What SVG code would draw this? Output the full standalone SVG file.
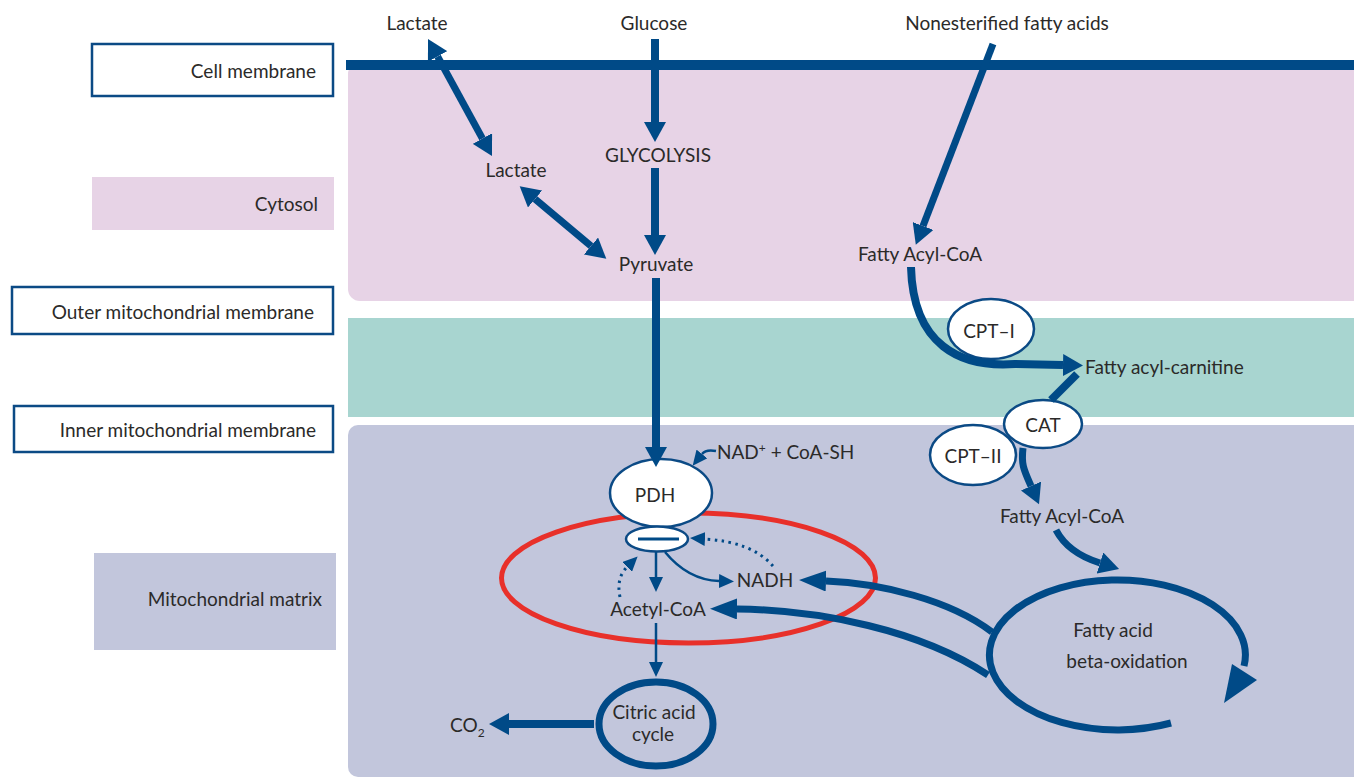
<svg xmlns="http://www.w3.org/2000/svg" width="1354" height="778" viewBox="0 0 1354 778">
<style>
text{font-family:Lato,"Noto Sans","Liberation Sans",sans-serif;font-size:19px;fill:#2b2a29}
.c{text-anchor:middle}
.r{text-anchor:end}
.lbl{fill:#fff;stroke:#0b4a85;stroke-width:2.5}
.enz{fill:#fff;stroke:#0b4a85;stroke-width:2.5}
.thick{fill:none;stroke:#004a87;stroke-width:8}
.med{fill:none;stroke:#004a87;stroke-width:7}
.thin{fill:none;stroke:#004a87;stroke-width:2.5}
.dot{fill:none;stroke:#004a87;stroke-width:3;stroke-dasharray:2.5 4.5}
</style>
<defs>
<marker id="hb" markerUnits="userSpaceOnUse" viewBox="0 0 20 22" markerWidth="20" markerHeight="22" refX="0" refY="11" orient="auto-start-reverse"><path d="M0,0 L20,11 L0,22 z" fill="#004a87"/></marker>
<marker id="hl" markerUnits="userSpaceOnUse" viewBox="0 0 27 21" markerWidth="27" markerHeight="21" refX="0" refY="10.5" orient="auto"><path d="M0,0 L27,10.5 L0,21 z" fill="#004a87"/></marker>
<marker id="hs" markerUnits="userSpaceOnUse" viewBox="0 0 15 14" markerWidth="15" markerHeight="14" refX="0" refY="7" orient="auto"><path d="M0,0 L15,7 L0,14 z" fill="#004a87"/></marker>
</defs>
<rect width="1354" height="778" fill="#fff"/>
<g id="compartments">
<rect x="348" y="62" width="1020" height="239" rx="12" fill="#e7d3e6"/>
<rect x="348" y="318" width="1010" height="99" fill="#a8d5d0"/>
<rect x="348" y="425" width="1020" height="352" rx="10" fill="#c2c6dc"/>
<rect id="cell-membrane-line" x="346" y="60" width="1010" height="10" fill="#004a87"/>
</g>
<g id="legend">
<g id="lbl-cell"><rect class="lbl" x="92" y="44" width="241" height="52"/><text class="r" x="316" y="78">Cell membrane</text></g>
<g id="lbl-cytosol"><rect x="92" y="177" width="242" height="53" fill="#e7d3e6"/><text class="r" x="318" y="211">Cytosol</text></g>
<g id="lbl-outer"><rect class="lbl" x="12" y="287" width="321" height="47"/><text class="r" x="314" y="319">Outer mitochondrial membrane</text></g>
<g id="lbl-inner"><rect class="lbl" x="14" y="406" width="319" height="46"/><text class="r" x="316" y="437">Inner mitochondrial membrane</text></g>
<g id="lbl-matrix"><rect x="94" y="553" width="242" height="97" fill="#c2c6dc"/><text class="r" x="322" y="606">Mitochondrial matrix</text></g>
</g>
<ellipse id="red-loop" cx="688.5" cy="578" rx="187" ry="65" fill="none" stroke="#e8302a" stroke-width="5"/>
<g id="nodes">
<g id="pdh"><ellipse class="enz" cx="661" cy="493" rx="51" ry="34"/><text class="c" x="655" y="502">PDH</text></g>
<g id="inhib"><ellipse class="enz" cx="657" cy="539" rx="31" ry="12.5"/><line x1="638" y1="539" x2="679" y2="539" stroke="#004a87" stroke-width="3"/></g>
<g id="tca"><ellipse cx="656" cy="724" rx="57" ry="42" fill="none" stroke="#004a87" stroke-width="7"/><text class="c" x="654" y="719">Citric acid</text><text class="c" x="653" y="741">cycle</text></g>
<g id="cpt1"><ellipse class="enz" cx="991" cy="329" rx="43" ry="30"/><text class="c" x="989" y="338">CPT–I</text></g>
<g id="cpt2"><ellipse class="enz" cx="973" cy="455" rx="43" ry="30"/><text class="c" x="973" y="463">CPT–II</text></g>
<g id="cat"><ellipse class="enz" cx="1043" cy="424" rx="39" ry="24"/><text class="c" x="1043" y="432">CAT</text></g>
<g id="t-lactate-out"><text class="c" x="417" y="30">Lactate</text></g>
<g id="t-glucose"><text class="c" x="654" y="30">Glucose</text></g>
<g id="t-nefa"><text class="c" x="1007" y="30">Nonesterified fatty acids</text></g>
<g id="t-lactate-in"><text class="c" x="516" y="177">Lactate</text></g>
<g id="t-glycolysis"><text class="c" x="658" y="162">GLYCOLYSIS</text></g>
<g id="t-pyruvate"><text class="c" x="656" y="271">Pyruvate</text></g>
<g id="t-facoa1"><text class="c" x="920" y="261">Fatty Acyl-CoA</text></g>
<g id="t-facarn"><text x="1085" y="374">Fatty acyl-carnitine</text></g>
<g id="t-facoa2"><text class="c" x="1062" y="523">Fatty Acyl-CoA</text></g>
<g id="t-beta"><text class="c" x="1113" y="637">Fatty acid</text><text class="c" x="1127" y="668">beta-oxidation</text></g>
<g id="t-nad"><text x="717" y="459">NAD<tspan font-size="12" dy="-7">+</tspan><tspan dy="7"> + CoA-SH</tspan></text></g>
<g id="t-nadh"><text class="c" x="765" y="587">NADH</text></g>
<g id="t-acetyl"><text class="c" x="658" y="616">Acetyl-CoA</text></g>
<g id="t-co2"><text x="450" y="732">CO<tspan font-size="12" dy="5">2</tspan></text></g>
</g>
<g id="connectors">
<line class="med" x1="437.6" y1="56.5" x2="482.4" y2="138.5" marker-start="url(#hb)" marker-end="url(#hb)"/>
<line class="med" x1="535" y1="199" x2="591" y2="246" marker-start="url(#hb)" marker-end="url(#hb)"/>
<line class="thick" x1="655" y1="39" x2="655" y2="122" marker-end="url(#hb)"/>
<line class="thick" x1="655" y1="168" x2="655" y2="235" marker-end="url(#hb)"/>
<line class="thick" x1="656" y1="278" x2="656" y2="447" marker-end="url(#hb)"/>
<line class="med" x1="993" y1="44" x2="923" y2="226" marker-end="url(#hb)"/>
<path class="thick" d="M911,267 C913,345 960,368 1015,364 L1063,365" marker-end="url(#hb)"/>
<path class="thick" d="M1077,374 L1051,400"/>
<path class="med" d="M1023,448 C1021,465 1024,470 1031,486" marker-end="url(#hb)"/>
<path class="med" d="M1056,530 Q1068,553 1100,563" marker-end="url(#hb)"/>
<path class="med" d="M1171,723 A128,75 0 1 1 1244,666"/>
<polygon points="1224,703 1257,680 1232,664" fill="#004a87"/>
<path class="med" d="M992,632 C950,600 880,583 826,581" marker-end="url(#hl)"/>
<path class="med" d="M988,675 C920,630 820,610 737,609" marker-end="url(#hl)"/>
<line class="thick" x1="594" y1="724" x2="509" y2="724" stroke-width="9" marker-end="url(#hb)"/>
<line class="thin" x1="656" y1="623" x2="656" y2="662" marker-end="url(#hs)"/>
<line class="thin" x1="656" y1="552" x2="656" y2="577" marker-end="url(#hs)"/>
<path class="thin" d="M665,552 Q688,580 719,581" marker-end="url(#hs)"/>
<path class="thin" d="M716,451 Q706,449 702,454" marker-end="url(#hs)"/>
<path class="dot" d="M773,566 Q752,542 705,539" marker-end="url(#hs)"/>
<path class="dot" d="M620,597 Q616,578 627,567" marker-end="url(#hs)"/>
</g>
</svg>
